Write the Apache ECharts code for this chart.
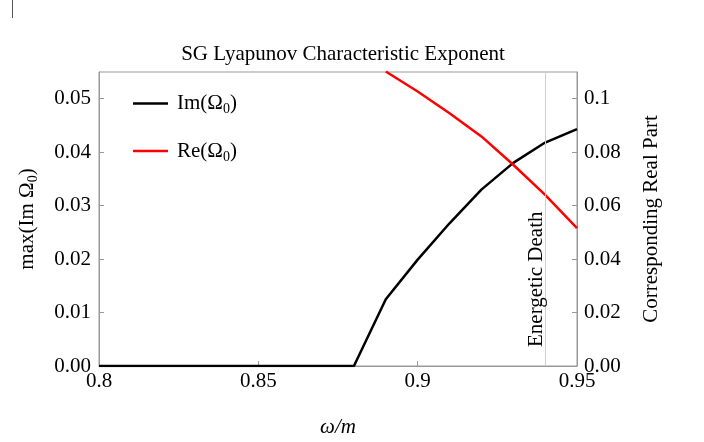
<!DOCTYPE html>
<html><head><meta charset="utf-8">
<script src="https://cdn.jsdelivr.net/npm/echarts@6/dist/echarts.min.js"></script>
<style>html,body{margin:0;padding:0;background:#fff}#c{width:704px;height:442px}</style>
</head><body><div id="c"></div>
<script>
// Data
const imX = [0.80, 0.88, 0.89, 0.90, 0.91, 0.92, 0.93, 0.94, 0.95];
const imY = [0, 0, 0.0125, 0.0199, 0.0267, 0.0330, 0.0380, 0.0418, 0.0443];
const reX = [0.89, 0.90, 0.91, 0.92, 0.93, 0.94, 0.95];
const reY = [0.1102, 0.1027, 0.0946, 0.0859, 0.0753, 0.0640, 0.0516];
const leftTickLabels = ['0.00', '0.01', '0.02', '0.03', '0.04', '0.05'];
const rightTickLabels = ['0.00', '0.02', '0.04', '0.06', '0.08', '0.1'];
const xTickLabels = ['0.8', '0.85', '0.9', '0.95'];
const deathOmega = 0.94;

const FONT = '"Liberation Serif", "Times New Roman", serif';
const FS = 21;
const AX = '#999';
const chart = echarts.init(document.getElementById('c'));
const zip = (xs, ys) => xs.map((x, i) => [x, ys[i]]);
const rich = {
  a: {fontFamily: FONT, fontSize: FS, color: '#000'},
  s: {fontFamily: FONT, fontSize: 14, color: '#000', padding: [12, 0, 0, 0]}
};
chart.setOption({
  animation: false,
  backgroundColor: '#fff',
  title: {
    text: 'SG Lyapunov Characteristic Exponent', left: 338, textAlign: 'center', top: 39,
    textStyle: {fontFamily: FONT, fontSize: FS, fontWeight: 'normal', color: '#000'}
  },
  grid: {left: 99, right: 127, top: 72, bottom: 76, show: true, borderColor: AX, borderWidth: 1,
    outerBoundsMode: 'none', containLabel: false},
  legend: {
    orient: 'vertical', left: 128, top: 88, itemWidth: 35, itemHeight: 2.5, itemGap: 24,
    icon: 'rect',
    data: ['Im', 'Re'],
    formatter: n => '{a|' + n + '(Ω}{s|0}{a|)}',
    textStyle: {fontFamily: FONT, fontSize: FS, color: '#000', rich: rich, padding: [0, 0, 0, 4]}
  },
  xAxis: {
    type: 'value', min: 0.8, max: 0.95, interval: 0.05,
    name: 'ω/m', nameLocation: 'middle', nameGap: 51,
    nameTextStyle: {fontFamily: FONT, fontSize: FS, fontStyle: 'italic', color: '#000'},
    axisLine: {lineStyle: {color: AX}},
    axisTick: {inside: true, length: 5, lineStyle: {color: AX}},
    axisLabel: {
      fontFamily: FONT, fontSize: FS, color: '#000', margin: 5,
      formatter: v => { const i = Math.round((v - 0.8) / 0.05); return xTickLabels[i] || ''; }
    },
    splitLine: {show: false}
  },
  yAxis: [{
    type: 'value', min: 0, max: 0.055, interval: 0.01, position: 'left',
    name: '{a|max(Im Ω}{s|0}{a|)}', nameLocation: 'middle', nameGap: 59, nameRotate: 90,
    nameTextStyle: {fontFamily: FONT, fontSize: FS, color: '#000', rich: rich},
    axisLine: {show: true, lineStyle: {color: AX}},
    axisTick: {show: true, inside: true, length: 5, lineStyle: {color: AX}},
    axisLabel: {
      fontFamily: FONT, fontSize: FS, color: '#000', margin: 8, showMaxLabel: false,
      formatter: v => { const i = Math.round(v / 0.01); return Math.abs(v - i * 0.01) < 1e-9 ? (leftTickLabels[i] || '') : ''; }
    },
    splitLine: {show: false}
  }, {
    type: 'value', min: 0, max: 0.11, interval: 0.02, position: 'right',
    name: 'Corresponding Real Part', nameLocation: 'middle', nameGap: 64, nameRotate: 90,
    nameTextStyle: {fontFamily: FONT, fontSize: FS, color: '#000'},
    axisLine: {show: true, lineStyle: {color: AX}},
    axisTick: {show: true, inside: true, length: 5, lineStyle: {color: AX}},
    axisLabel: {
      fontFamily: FONT, fontSize: FS, color: '#000', margin: 7, showMaxLabel: false,
      formatter: v => { const i = Math.round(v / 0.02); return Math.abs(v - i * 0.02) < 1e-9 ? (rightTickLabels[i] || '') : ''; }
    },
    splitLine: {show: false}
  }],
  series: [{
    name: 'Im', type: 'line', yAxisIndex: 0, data: zip(imX, imY), symbol: 'none',
    lineStyle: {color: '#000', width: 2.5}, itemStyle: {color: '#000'},
    markLine: {
      silent: true, symbol: 'none', data: [{xAxis: deathOmega}],
      lineStyle: {color: '#cfcfcf', width: 1, type: 'solid'},
      label: {show: true, formatter: 'Energetic Death', position: 'insideStartTop', distance: [19, -2],
        fontFamily: FONT, fontSize: FS, color: '#000'}
    }
  }, {
    name: 'Re', type: 'line', yAxisIndex: 1, data: zip(reX, reY), symbol: 'none',
    lineStyle: {color: '#ff0000', width: 2.5}, itemStyle: {color: '#ff0000'}
  }],
  graphic: [{type: 'line', shape: {x1: 12.5, y1: 0, x2: 12.5, y2: 18}, style: {stroke: '#555', lineWidth: 1}}]
});
</script></body></html>
